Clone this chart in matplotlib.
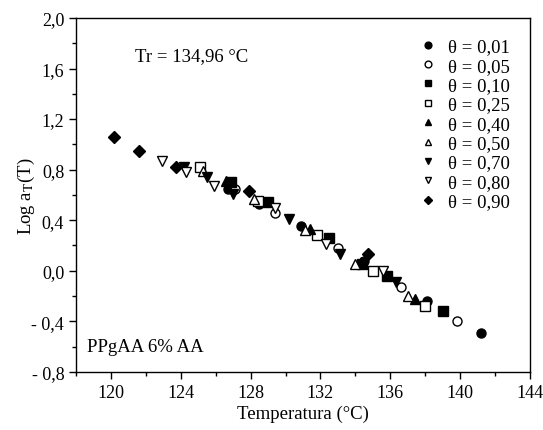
import numpy as np
import matplotlib
matplotlib.use("Agg")
import matplotlib.pyplot as plt
from matplotlib.ticker import MultipleLocator, FuncFormatter

plt.rcParams['font.family'] = ['Liberation Serif', 'DejaVu Serif']
plt.rcParams['mathtext.fontset'] = 'stix'

# data: (temperature, log aT)
t_001 = [126.7, 128.5, 130.9, 134.5, 138.1, 141.2]
y_001 = [0.65, 0.53, 0.35, 0.08, -0.24, -0.49]
t_005 = [127.1, 129.4, 133.0, 136.6, 139.8]
y_005 = [0.65, 0.46, 0.18, -0.13, -0.40]
t_010 = [126.9, 129.0, 132.5, 134.4, 135.8, 139.0]
y_010 = [0.70, 0.54, 0.26, 0.05, -0.04, -0.32]
t_025 = [125.1, 128.4, 131.8, 135.0, 138.0]
y_025 = [0.82, 0.55, 0.28, 0.00, -0.28]
t_040 = [126.6, 131.4, 134.3, 137.4]
y_040 = [0.71, 0.33, 0.07, -0.22]
t_050 = [125.3, 128.2, 131.1, 134.0, 137.0]
y_050 = [0.79, 0.57, 0.32, 0.05, -0.20]
t_070 = [124.2, 125.5, 127.0, 130.2, 133.1, 136.3]
y_070 = [0.82, 0.74, 0.61, 0.41, 0.13, -0.09]
t_080 = [122.9, 124.3, 125.9, 129.4, 132.3, 135.6]
y_080 = [0.87, 0.78, 0.67, 0.50, 0.21, 0.00]
t_090 = [120.2, 121.6, 123.7, 127.9, 134.7]
y_090 = [1.06, 0.95, 0.82, 0.63, 0.13]

labels = ['θ = 0,01', 'θ = 0,05', 'θ = 0,10', 'θ = 0,25', 'θ = 0,40',
          'θ = 0,50', 'θ = 0,70', 'θ = 0,80', 'θ = 0,90']

series = [
    (t_001, y_001, 'o', True),
    (t_005, y_005, 'o', False),
    (t_010, y_010, 's', True),
    (t_025, y_025, 's', False),
    (t_040, y_040, '^', True),
    (t_050, y_050, '^', False),
    (t_070, y_070, 'v', True),
    (t_080, y_080, 'v', False),
    (t_090, y_090, 'D', True),
]

fig = plt.figure(figsize=(5.43, 4.31), dpi=100)
ax = fig.add_axes([0.140, 0.135, 0.836, 0.821])

for (t, y, m, filled), lab in zip(series, labels):
    ms = 6.0 if m == 'D' else 6.5
    ax.plot(t, y, linestyle='none', marker=m, markersize=ms,
            markerfacecolor='black' if filled else 'white',
            markeredgecolor='black', markeredgewidth=1.0, label=lab)

ax.set_xlim(118, 144)
ax.set_ylim(-0.8, 2.0)
ax.xaxis.set_major_locator(MultipleLocator(4))
ax.xaxis.set_minor_locator(MultipleLocator(2))
ax.yaxis.set_major_locator(MultipleLocator(0.4))
ax.yaxis.set_minor_locator(MultipleLocator(0.2))

def yfmt(v, pos):
    s = '%.1f' % abs(v)
    s = s.replace('.', ',')
    if v < -1e-9:
        return '- ' + s
    return s

ax.yaxis.set_major_formatter(FuncFormatter(yfmt))
ax.tick_params(which='major', direction='out', length=5, width=1, labelsize=13)
ax.tick_params(which='minor', direction='out', length=3, width=1)
for sp in ax.spines.values():
    sp.set_linewidth(1.0)

ax.set_xlabel('Temperatura (°C)', fontsize=13.5, labelpad=3)
ax.set_ylabel(r'Log a$_{\mathrm{T}}$(T)', fontsize=13.5)
ax.yaxis.set_label_coords(-0.085, 0.5)

ax.text(0.13, 0.88, 'Tr = 134,96 °C', transform=ax.transAxes, fontsize=13.5)
ax.text(0.025, 0.058, 'PPgAA 6% AA', transform=ax.transAxes, fontsize=13.5)

ax.legend(loc='upper right', bbox_to_anchor=(0.985, 0.98), frameon=False,
          fontsize=13.5, markerscale=0.75, handlelength=1.0,
          handletextpad=0.6, labelspacing=0.12, borderaxespad=0.3)

fig.savefig('out.png', dpi=100)
